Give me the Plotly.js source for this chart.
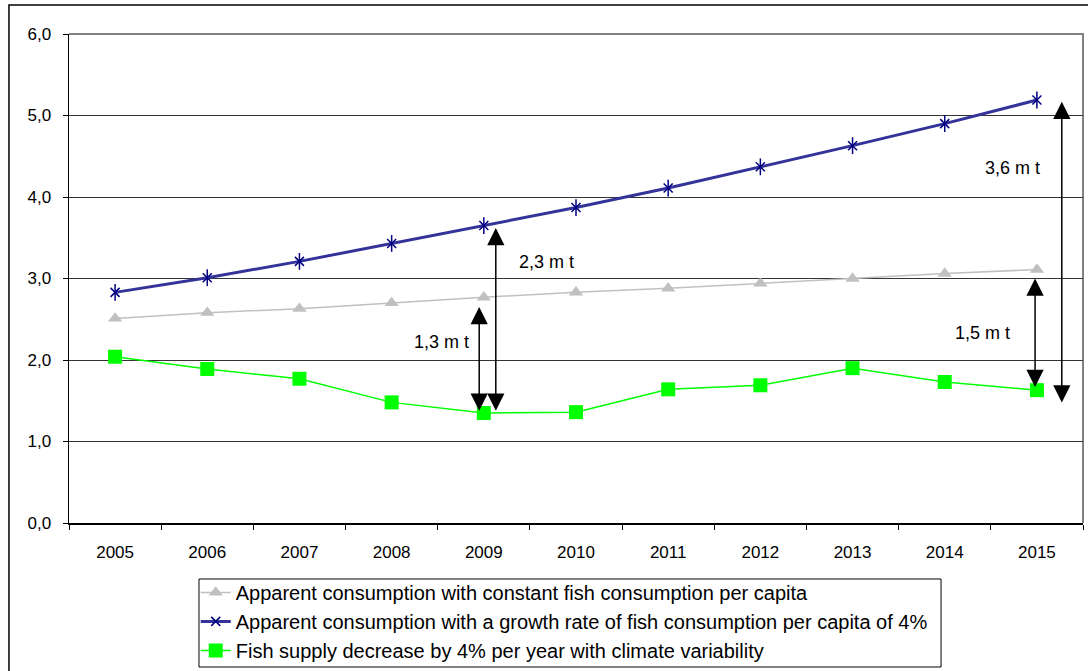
<!DOCTYPE html>
<html>
<head>
<meta charset="utf-8">
<script src="https://cdn.plot.ly/plotly-3.0.1.min.js"></script>
<style>html,body{margin:0;padding:0;background:#fff;}#chart{width:1088px;height:671px;}</style>
</head>
<body>
<div id="chart"></div>
<script>
const years = ['2005','2006','2007','2008','2009','2010','2011','2012','2013','2014','2015'];
const constantConsumption = [2.51, 2.58, 2.63, 2.70, 2.77, 2.83, 2.88, 2.94, 3.00, 3.06, 3.11];
const growthConsumption = [2.83, 3.01, 3.21, 3.43, 3.65, 3.87, 4.11, 4.37, 4.63, 4.90, 5.19];
const fishSupply = [2.04, 1.89, 1.77, 1.48, 1.35, 1.36, 1.64, 1.69, 1.90, 1.73, 1.63];
const seriesNames = [
  'Apparent consumption with constant fish consumption per capita',
  'Apparent consumption with a growth rate of fish consumption per capita of 4%',
  'Fish supply decrease by 4% per year with climate variability'
];
// gap arrows: label, year index, bottom value, top value
const gapLabels = ['1,3 m t', '2,3 m t', '1,5 m t', '3,6 m t'];
const gapYearIndex = [4, 4, 10, 10];
const gapBottom = [1.36, 1.36, 1.65, 1.46];
const gapTop = [2.65, 3.62, 3.00, 5.17];

const xShift = [-0.05, 0.13, -0.02, 0.27];
const labelDx = [-0.46, 0.68, -0.59, -0.26];
const labelY = [2.22, 3.20, 2.33, 4.36];

const fam = '"Liberation Sans", Arial, sans-serif';
const tickFont = {family: fam, size: 17, color: '#000'};
const labelFont = {family: fam, size: 18, color: '#000'};
const legendFont = {family: fam, size: 20, color: '#000'};

const traces = [
  {x: years, y: constantConsumption, name: seriesNames[0], type: 'scatter', mode: 'lines+markers',
   legendgroup: 'a',
   line: {color: '#c0c0c0', width: 1.5},
   marker: {symbol: 'triangle-up', size: 12.5, color: '#c0c0c0'}},
  {x: years, y: growthConsumption, name: seriesNames[1], type: 'scatter', mode: 'lines+markers',
   legendgroup: 'b',
   line: {color: '#333399', width: 3},
   marker: {symbol: 'x-thin-open', size: 9, color: '#000080', line: {color: '#000080', width: 1.5}}},
  {x: years, y: growthConsumption, name: seriesNames[1], type: 'scatter', mode: 'markers',
   legendgroup: 'b', showlegend: false, hoverinfo: 'skip',
   marker: {symbol: 'line-ns-open', size: 12, color: '#000080', line: {color: '#000080', width: 1.5}}},
  {x: years, y: fishSupply, name: seriesNames[2], type: 'scatter', mode: 'lines+markers',
   legendgroup: 'c',
   line: {color: '#00ff00', width: 1.5},
   marker: {symbol: 'square', size: 14, color: '#00ff00'}}
];

const annotations = [];
gapLabels.forEach((lab, i) => {
  const xp = gapYearIndex[i] + xShift[i];
  annotations.push({
    x: xp, y: gapTop[i], xref: 'x', yref: 'y',
    ax: xp, ay: gapBottom[i], axref: 'x', ayref: 'y',
    text: '', showarrow: true, arrowhead: 2, startarrowhead: 2, arrowside: 'end+start',
    arrowsize: 2.3, arrowwidth: 1.5, arrowcolor: '#000', standoff: 0, startstandoff: 0
  });
  annotations.push({
    x: gapYearIndex[i] + labelDx[i], y: labelY[i], xref: 'x', yref: 'y',
    text: lab, showarrow: false, font: labelFont
  });
});

const layout = {
  width: 1088, height: 671,
  margin: {l: 69, r: 5, t: 34, b: 148, autoexpand: false},
  paper_bgcolor: '#fff', plot_bgcolor: '#fff',
  font: tickFont,
  separators: ', ',
  showlegend: true,
  legend: {
    x: 0.125, y: -0.102, xanchor: 'left', yanchor: 'top',
    borderwidth: 0, bgcolor: 'rgba(0,0,0,0)',
    font: legendFont, traceorder: 'grouped', tracegroupgap: 0,
    itemwidth: 30
  },
  xaxis: {
    type: 'category', range: [-0.5, 10.5], automargin: false,
    showgrid: false, showline: true, linecolor: '#000', linewidth: 1.5,
    ticks: 'outside', tickson: 'boundaries', ticklen: 5, tickcolor: '#000', tickwidth: 1,
    tickfont: tickFont, ticklabelstandoff: 13, zeroline: false, fixedrange: true
  },
  yaxis: {
    range: [0, 6], dtick: 1, tick0: 0, tickformat: '.1f', automargin: false,
    showgrid: true, gridcolor: '#333', gridwidth: 1,
    showline: true, linecolor: '#000', linewidth: 1.5,
    ticks: 'outside', ticklen: 5, tickcolor: '#000', tickwidth: 1,
    tickfont: tickFont, ticklabelstandoff: 8, zeroline: false, fixedrange: true
  },
  shapes: [
    {type: 'path', xref: 'paper', yref: 'paper', path: 'M 1 0 L 1 1 L 0 1',
     line: {color: '#808080', width: 2}, layer: 'below'},
    {type: 'path', xref: 'paper', yref: 'paper', path: 'M -0.0592 -0.35 L -0.0592 1.0593 L 1.02 1.0593',
     line: {color: '#000', width: 1.5}},
    {type: 'rect', xref: 'paper', yref: 'paper', x0: 0.1282, x1: 0.8600, y0: -0.1145, y1: -0.2945,
     line: {color: '#000', width: 1}, fillcolor: 'rgba(0,0,0,0)', layer: 'below'}
  ],
  annotations: annotations
};

Plotly.newPlot('chart', traces, layout, {displayModeBar: false, staticPlot: true});
</script>
</body>
</html>
